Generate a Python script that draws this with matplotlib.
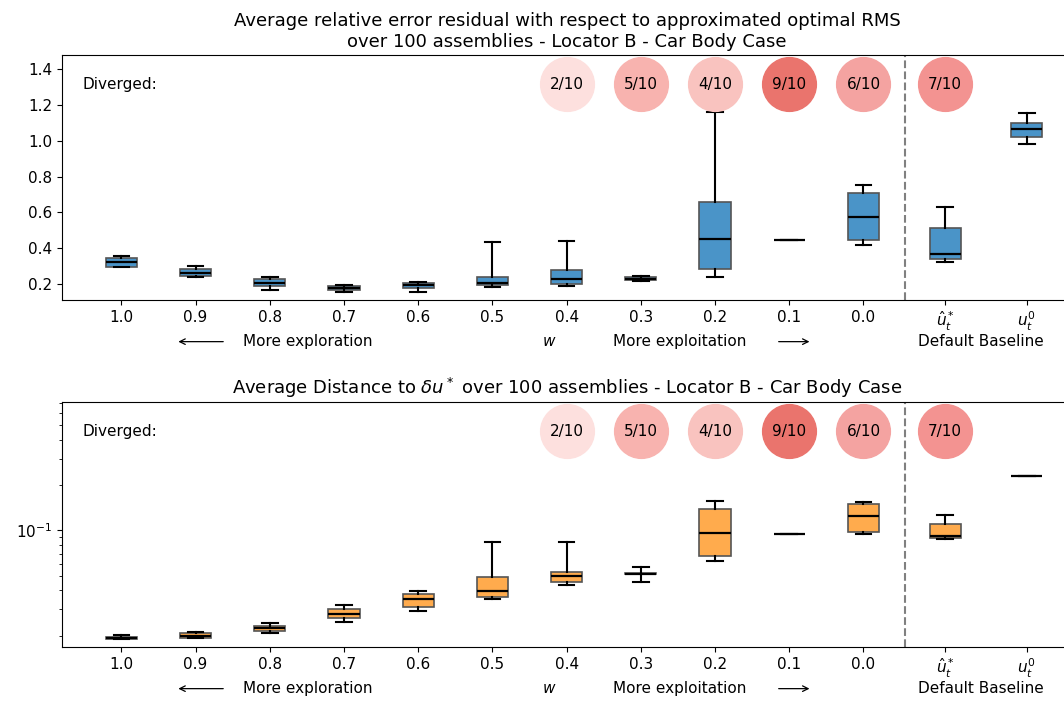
import numpy as np
import matplotlib
matplotlib.use("Agg")
import matplotlib.pyplot as plt

labels = ["1.0", "0.9", "0.8", "0.7", "0.6", "0.5", "0.4", "0.3", "0.2", "0.1", "0.0",
          r"$\hat{u}_t^*$", r"$u_t^0$"]
positions = [0, 1, 2, 3, 4, 5, 6, 7, 8, 9, 10, 11.1, 12.2]

# top panel: relative error residual  (whislo, q1, med, q3, whishi)
rms_stats = [
    (0.292, 0.297, 0.320, 0.344, 0.357),
    (0.237, 0.245, 0.260, 0.282, 0.301),
    (0.166, 0.189, 0.207, 0.226, 0.241),
    (0.157, 0.166, 0.176, 0.189, 0.194),
    (0.157, 0.176, 0.193, 0.207, 0.209),
    (0.181, 0.194, 0.204, 0.237, 0.432),
    (0.189, 0.198, 0.226, 0.279, 0.441),
    (0.219, 0.222, 0.230, 0.241, 0.245),
    (0.241, 0.282, 0.452, 0.660, 1.161),
    (0.443, 0.443, 0.443, 0.443, 0.443),
    (0.419, 0.447, 0.576, 0.708, 0.755),
    (0.320, 0.340, 0.368, 0.512, 0.630),
    (0.985, 1.021, 1.067, 1.101, 1.153),
]

# bottom panel: distance to delta u*
dist_stats = [
    (0.0190, 0.0191, 0.0194, 0.0197, 0.0203),
    (0.0193, 0.0194, 0.0199, 0.0207, 0.0210),
    (0.0207, 0.0213, 0.0223, 0.0232, 0.0241),
    (0.0245, 0.0262, 0.0278, 0.0299, 0.0321),
    (0.0290, 0.0312, 0.0348, 0.0378, 0.0398),
    (0.0348, 0.0359, 0.0394, 0.0488, 0.0832),
    (0.0437, 0.0452, 0.0496, 0.0528, 0.0832),
    (0.0452, 0.0510, 0.0517, 0.0522, 0.0570),
    (0.0631, 0.0681, 0.0959, 0.1395, 0.1568),
    (0.0940, 0.0940, 0.0940, 0.0940, 0.0940),
    (0.0950, 0.0974, 0.1240, 0.1506, 0.1536),
    (0.0884, 0.0894, 0.0921, 0.1100, 0.1259),
    (0.2300, 0.2300, 0.2300, 0.2300, 0.2300),
]

diverged_idx = [6, 7, 8, 9, 10, 11]
diverged_txt = ["2/10", "5/10", "4/10", "9/10", "6/10", "7/10"]
diverged_col = ["#fde0de", "#f8b3af", "#f9c3bf", "#ea746d", "#f4a3a1", "#f39391"]


def to_bxp(stats):
    return [dict(whislo=s[0], q1=s[1], med=s[2], q3=s[3], whishi=s[4], fliers=[]) for s in stats]


def draw_panel(ax, stats, color, title):
    ax.bxp(to_bxp(stats), positions=positions, widths=0.42, patch_artist=True,
           boxprops=dict(facecolor=color, edgecolor="#555555", linewidth=1.2),
           medianprops=dict(color="black", linewidth=1.6),
           whiskerprops=dict(color="black", linewidth=1.5),
           capprops=dict(color="black", linewidth=1.5))
    ax.set_xticks(positions)
    ax.set_xticklabels(labels, fontsize=11)
    ax.tick_params(axis="y", labelsize=11)
    ax.set_xlim(-0.8, 12.81)
    ax.axvline(10.56, color="gray", linestyle="--", lw=1.5)
    ax.set_title(title, fontsize=13)
    ax.text(0.02, 0.88, "Diverged:", transform=ax.transAxes, fontsize=11, va="center")
    tr = ax.get_xaxis_transform()
    for i, t, c in zip(diverged_idx, diverged_txt, diverged_col):
        p = positions[i]
        ax.scatter([p], [0.88], s=1500, color=c, transform=tr, clip_on=False, zorder=3)
        ax.text(p, 0.88, t, transform=tr, ha="center", va="center", fontsize=11, zorder=4)
    # second line of x labels
    ax.text(2.51, -0.17, "More exploration", transform=tr, ha="center", va="center", fontsize=11)
    ax.annotate("", xy=(0.73, -0.17), xytext=(1.41, -0.17), xycoords=tr,
                arrowprops=dict(arrowstyle="->", lw=0.9))
    ax.text(5.76, -0.17, r"$w$", transform=tr, ha="center", va="center", fontsize=11)
    ax.text(7.53, -0.17, "More exploitation", transform=tr, ha="center", va="center", fontsize=11)
    ax.annotate("", xy=(9.31, -0.17), xytext=(8.82, -0.17), xycoords=tr,
                arrowprops=dict(arrowstyle="->", lw=0.9))
    ax.text(11.58, -0.17, "Default Baseline", transform=tr, ha="center", va="center", fontsize=11)


fig = plt.figure(figsize=(10.64, 7.03), dpi=100)
ax1 = fig.add_axes([62 / 1064, 1 - 300 / 703, 1010 / 1064, 245 / 703])
ax2 = fig.add_axes([62 / 1064, 1 - 647 / 703, 1010 / 1064, 245 / 703])

draw_panel(ax1, rms_stats, "#4a94c8",
           "Average relative error residual with respect to approximated optimal RMS\n"
           "over 100 assemblies - Locator B - Car Body Case")
ax1.set_ylim(0.11, 1.48)
ax1.set_yticks([0.2, 0.4, 0.6, 0.8, 1.0, 1.2, 1.4])

draw_panel(ax2, dist_stats, "#ffab4d",
           r"Average Distance to $\delta u^*$ over 100 assemblies - Locator B - Car Body Case")
ax2.set_yscale("log")
ax2.set_ylim(0.0168, 0.714)

fig.savefig("out.png", dpi=100)
